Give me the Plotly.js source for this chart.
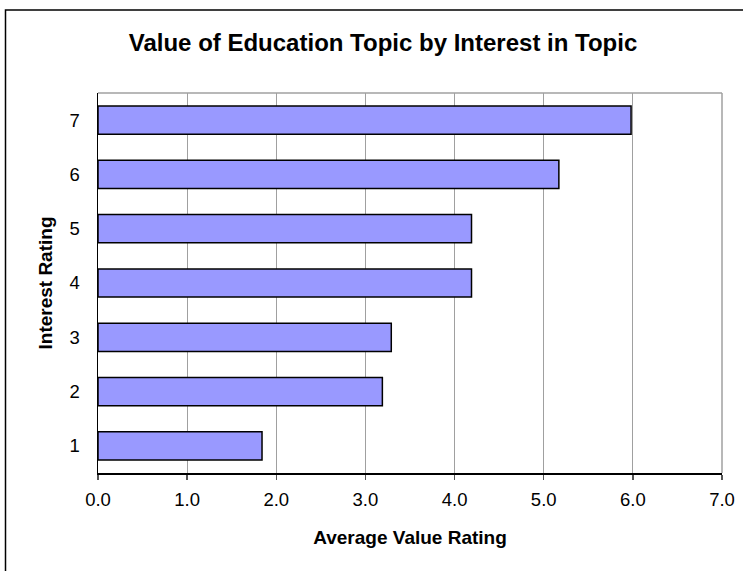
<!DOCTYPE html>
<html>
<head>
<meta charset="utf-8">
<script src="https://cdn.plot.ly/plotly-3.0.1.min.js"></script>
<style>html,body{margin:0;padding:0;background:#fff;}#chart{width:743px;height:571px;}</style>
</head>
<body>
<div id="chart"></div>
<script>
const categories = ["1", "2", "3", "4", "5", "6", "7"];
const values = [1.84, 3.19, 3.29, 4.19, 4.19, 5.17, 5.98];
const xTickVals = [0, 1, 2, 3, 4, 5, 6, 7];
const xTickText = ["0.0", "1.0", "2.0", "3.0", "4.0", "5.0", "6.0", "7.0"];

const W = 743, H = 571, L = 98, R = 21, T = 93, B = 98;
const pw = W - L - R, ph = H - T - B;

const trace = {
  type: 'bar',
  orientation: 'h',
  x: values,
  y: categories,
  marker: {color: '#9999FF', line: {color: '#000000', width: 1.5}},
  hoverinfo: 'skip'
};

const layout = {
  width: W, height: H,
  margin: {l: L, r: R, t: T, b: B},
  paper_bgcolor: '#ffffff',
  plot_bgcolor: '#ffffff',
  font: {family: '"Liberation Sans", Arial, sans-serif', color: '#000000', size: 17},
  showlegend: false,
  bargap: 0.48,
  title: {
    text: '<b>Value of Education Topic by Interest in Topic</b>',
    font: {size: 24, family: '"Liberation Sans", Arial, sans-serif', color: '#000'},
    xref: 'container', x: 383 / W, xanchor: 'center',
    yref: 'container', y: 1 - 43 / H, yanchor: 'middle'
  },
  xaxis: {
    range: [0, 7],
    tickvals: xTickVals,
    ticktext: xTickText,
    showgrid: true, gridcolor: '#a0a0a0', gridwidth: 1,
    showline: true, linecolor: '#000000', linewidth: 1.5,
    ticks: 'outside', ticklen: 5, tickcolor: '#555555', tickwidth: 1.5,
    ticklabelstandoff: 4,
    zeroline: false,
    mirror: false,
    tickfont: {size: 18.5},
    title: {text: '<b>Average Value Rating</b>', font: {size: 19}, standoff: 22}
  },
  yaxis: {
    type: 'category',
    categoryarray: categories,
    range: [-0.5, 6.5],
    showgrid: false,
    showline: true, linecolor: '#000000', linewidth: 1.5,
    ticks: 'outside', ticklen: 13, tickcolor: 'rgba(0,0,0,0)',
    tickfont: {size: 18.5},
    title: {text: '<b>Interest Rating</b>', font: {size: 19}, standoff: 12}
  },
  shapes: [
    {type: 'line', xref: 'paper', yref: 'paper', x0: 0, x1: 1, y0: 1, y1: 1, line: {color: '#a0a0a0', width: 1.5}},
    {type: 'line', xref: 'paper', yref: 'paper', x0: 1, x1: 1, y0: 0, y1: 1, line: {color: '#a0a0a0', width: 1.5}},
    {type: 'rect', xref: 'paper', yref: 'paper',
     x0: (5.5 - L) / pw, x1: (W + 20 - L) / pw,
     y0: -(H + 20 - T - ph) / ph, y1: 1 + (T - 10) / ph,
     line: {color: '#000000', width: 1.5}, layer: 'above'}
  ]
};

Plotly.newPlot('chart', [trace], layout, {staticPlot: true, displayModeBar: false});
</script>
</body>
</html>
